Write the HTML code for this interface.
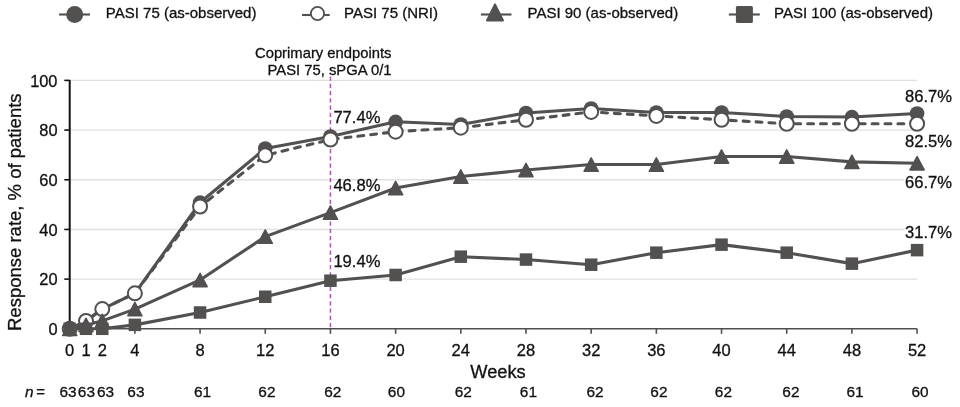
<!DOCTYPE html><html><head><meta charset="utf-8"><style>html,body{margin:0;padding:0;background:#fff;}svg{display:block;will-change:transform;} text{stroke:#111;stroke-width:0.3px;font-family:"Liberation Sans",sans-serif;}</style></head><body>
<svg width="960" height="407" viewBox="0 0 960 407">
<line x1="70.7" y1="279.12" x2="917.09" y2="279.12" stroke="#e0e0e0" stroke-width="1.4"/>
<line x1="70.7" y1="229.44" x2="917.09" y2="229.44" stroke="#e0e0e0" stroke-width="1.4"/>
<line x1="70.7" y1="179.76" x2="917.09" y2="179.76" stroke="#e0e0e0" stroke-width="1.4"/>
<line x1="70.7" y1="130.08" x2="917.09" y2="130.08" stroke="#e0e0e0" stroke-width="1.4"/>
<line x1="70.7" y1="80.40" x2="917.09" y2="80.40" stroke="#e0e0e0" stroke-width="1.4"/>
<line x1="69.7" y1="328.80" x2="917.09" y2="328.80" stroke="#505050" stroke-width="1.6"/>
<line x1="69.70" y1="328.80" x2="69.70" y2="333.80" stroke="#505050" stroke-width="1.6"/>
<line x1="86.00" y1="328.80" x2="86.00" y2="333.80" stroke="#505050" stroke-width="1.6"/>
<line x1="102.29" y1="328.80" x2="102.29" y2="333.80" stroke="#505050" stroke-width="1.6"/>
<line x1="134.88" y1="328.80" x2="134.88" y2="333.80" stroke="#505050" stroke-width="1.6"/>
<line x1="200.07" y1="328.80" x2="200.07" y2="333.80" stroke="#505050" stroke-width="1.6"/>
<line x1="265.25" y1="328.80" x2="265.25" y2="333.80" stroke="#505050" stroke-width="1.6"/>
<line x1="330.44" y1="328.80" x2="330.44" y2="333.80" stroke="#505050" stroke-width="1.6"/>
<line x1="395.62" y1="328.80" x2="395.62" y2="333.80" stroke="#505050" stroke-width="1.6"/>
<line x1="460.80" y1="328.80" x2="460.80" y2="333.80" stroke="#505050" stroke-width="1.6"/>
<line x1="525.99" y1="328.80" x2="525.99" y2="333.80" stroke="#505050" stroke-width="1.6"/>
<line x1="591.17" y1="328.80" x2="591.17" y2="333.80" stroke="#505050" stroke-width="1.6"/>
<line x1="656.36" y1="328.80" x2="656.36" y2="333.80" stroke="#505050" stroke-width="1.6"/>
<line x1="721.54" y1="328.80" x2="721.54" y2="333.80" stroke="#505050" stroke-width="1.6"/>
<line x1="786.72" y1="328.80" x2="786.72" y2="333.80" stroke="#505050" stroke-width="1.6"/>
<line x1="851.91" y1="328.80" x2="851.91" y2="333.80" stroke="#505050" stroke-width="1.6"/>
<line x1="917.09" y1="328.80" x2="917.09" y2="333.80" stroke="#505050" stroke-width="1.6"/>
<line x1="69.7" y1="79.90" x2="69.7" y2="328.80" stroke="#111" stroke-width="2"/>
<line x1="64.3" y1="328.80" x2="69.7" y2="328.80" stroke="#111" stroke-width="1.6"/>
<line x1="64.3" y1="279.12" x2="69.7" y2="279.12" stroke="#111" stroke-width="1.6"/>
<line x1="64.3" y1="229.44" x2="69.7" y2="229.44" stroke="#111" stroke-width="1.6"/>
<line x1="64.3" y1="179.76" x2="69.7" y2="179.76" stroke="#111" stroke-width="1.6"/>
<line x1="64.3" y1="130.08" x2="69.7" y2="130.08" stroke="#111" stroke-width="1.6"/>
<line x1="64.3" y1="80.40" x2="69.7" y2="80.40" stroke="#111" stroke-width="1.6"/>
<text x="57.5" y="335.10" font-size="16.4" text-anchor="end" fill="#111">0</text>
<text x="57.5" y="285.42" font-size="16.4" text-anchor="end" fill="#111">20</text>
<text x="57.5" y="235.74" font-size="16.4" text-anchor="end" fill="#111">40</text>
<text x="57.5" y="186.06" font-size="16.4" text-anchor="end" fill="#111">60</text>
<text x="57.5" y="136.38" font-size="16.4" text-anchor="end" fill="#111">80</text>
<text x="57.5" y="86.70" font-size="16.4" text-anchor="end" fill="#111">100</text>
<text transform="translate(21,331.0) rotate(-90)" font-size="18.5" fill="#111">Response rate, % of patients</text>
<line x1="330.44" y1="76.5" x2="330.44" y2="328.80" stroke="#a65aa6" stroke-width="1.5" stroke-dasharray="4.2 3.05"/>
<polyline points="69.70,328.80 86.00,320.91 102.29,309.09 134.88,293.31 200.07,202.56 265.25,148.51 330.44,136.49 395.62,121.80 460.80,124.47 525.99,112.98 591.17,108.45 656.36,112.45 721.54,112.45 786.72,116.46 851.91,117.05 917.09,113.52" fill="none" stroke="#535050" stroke-width="3.1" stroke-linejoin="round"/>
<polyline points="69.70,328.80 86.00,320.91 102.29,309.09 134.88,293.31 200.07,206.57 265.25,155.31 330.44,139.54 395.62,131.66 460.80,127.71 525.99,119.83 591.17,111.94 656.36,115.89 721.54,119.83 786.72,123.77 851.91,123.77 917.09,123.77" fill="none" stroke="#535050" stroke-width="3.1" stroke-dasharray="5.9 7" stroke-dashoffset="0.65" stroke-linecap="round" stroke-linejoin="round"/>
<polyline points="69.70,328.80 86.00,324.86 102.29,320.91 134.88,309.09 200.07,279.93 265.25,236.65 330.44,212.61 395.62,188.04 460.80,176.55 525.99,169.99 591.17,164.54 656.36,164.54 721.54,156.52 786.72,156.52 851.91,161.84 917.09,163.20" fill="none" stroke="#535050" stroke-width="3.1" stroke-linejoin="round"/>
<polyline points="69.70,328.80 86.00,328.80 102.29,328.80 134.88,324.86 200.07,312.51 265.25,296.75 330.44,280.72 395.62,274.98 460.80,256.68 525.99,259.57 591.17,264.70 656.36,252.68 721.54,244.66 786.72,252.68 851.91,263.65 917.09,250.14" fill="none" stroke="#535050" stroke-width="3.1" stroke-linejoin="round"/>
<circle cx="69.70" cy="328.80" r="7.3" fill="#535050"/>
<circle cx="86.00" cy="320.91" r="7.3" fill="#535050"/>
<circle cx="102.29" cy="309.09" r="7.3" fill="#535050"/>
<circle cx="134.88" cy="293.31" r="7.3" fill="#535050"/>
<circle cx="200.07" cy="202.56" r="7.3" fill="#535050"/>
<circle cx="265.25" cy="148.51" r="7.3" fill="#535050"/>
<circle cx="330.44" cy="136.49" r="7.3" fill="#535050"/>
<circle cx="395.62" cy="121.80" r="7.3" fill="#535050"/>
<circle cx="460.80" cy="124.47" r="7.3" fill="#535050"/>
<circle cx="525.99" cy="112.98" r="7.3" fill="#535050"/>
<circle cx="591.17" cy="108.45" r="7.3" fill="#535050"/>
<circle cx="656.36" cy="112.45" r="7.3" fill="#535050"/>
<circle cx="721.54" cy="112.45" r="7.3" fill="#535050"/>
<circle cx="786.72" cy="116.46" r="7.3" fill="#535050"/>
<circle cx="851.91" cy="117.05" r="7.3" fill="#535050"/>
<circle cx="917.09" cy="113.52" r="7.3" fill="#535050"/>
<circle cx="69.70" cy="328.80" r="7.0" fill="#fff" stroke="#535050" stroke-width="2"/>
<circle cx="86.00" cy="320.91" r="7.0" fill="#fff" stroke="#535050" stroke-width="2"/>
<circle cx="102.29" cy="309.09" r="7.0" fill="#fff" stroke="#535050" stroke-width="2"/>
<circle cx="134.88" cy="293.31" r="7.0" fill="#fff" stroke="#535050" stroke-width="2"/>
<circle cx="200.07" cy="206.57" r="7.0" fill="#fff" stroke="#535050" stroke-width="2"/>
<circle cx="265.25" cy="155.31" r="7.0" fill="#fff" stroke="#535050" stroke-width="2"/>
<circle cx="330.44" cy="139.54" r="7.0" fill="#fff" stroke="#535050" stroke-width="2"/>
<circle cx="395.62" cy="131.66" r="7.0" fill="#fff" stroke="#535050" stroke-width="2"/>
<circle cx="460.80" cy="127.71" r="7.0" fill="#fff" stroke="#535050" stroke-width="2"/>
<circle cx="525.99" cy="119.83" r="7.0" fill="#fff" stroke="#535050" stroke-width="2"/>
<circle cx="591.17" cy="111.94" r="7.0" fill="#fff" stroke="#535050" stroke-width="2"/>
<circle cx="656.36" cy="115.89" r="7.0" fill="#fff" stroke="#535050" stroke-width="2"/>
<circle cx="721.54" cy="119.83" r="7.0" fill="#fff" stroke="#535050" stroke-width="2"/>
<circle cx="786.72" cy="123.77" r="7.0" fill="#fff" stroke="#535050" stroke-width="2"/>
<circle cx="851.91" cy="123.77" r="7.0" fill="#fff" stroke="#535050" stroke-width="2"/>
<circle cx="917.09" cy="123.77" r="7.0" fill="#fff" stroke="#535050" stroke-width="2"/>
<polygon points="69.70,322.10 76.80,335.50 62.60,335.50" fill="#535050" stroke="#535050" stroke-width="1.5" stroke-linejoin="round"/>
<polygon points="86.00,318.16 93.10,331.56 78.90,331.56" fill="#535050" stroke="#535050" stroke-width="1.5" stroke-linejoin="round"/>
<polygon points="102.29,314.21 109.39,327.61 95.19,327.61" fill="#535050" stroke="#535050" stroke-width="1.5" stroke-linejoin="round"/>
<polygon points="134.88,302.39 141.98,315.79 127.78,315.79" fill="#535050" stroke="#535050" stroke-width="1.5" stroke-linejoin="round"/>
<polygon points="200.07,273.23 207.17,286.63 192.97,286.63" fill="#535050" stroke="#535050" stroke-width="1.5" stroke-linejoin="round"/>
<polygon points="265.25,229.95 272.35,243.35 258.15,243.35" fill="#535050" stroke="#535050" stroke-width="1.5" stroke-linejoin="round"/>
<polygon points="330.44,205.91 337.54,219.31 323.34,219.31" fill="#535050" stroke="#535050" stroke-width="1.5" stroke-linejoin="round"/>
<polygon points="395.62,181.34 402.72,194.74 388.52,194.74" fill="#535050" stroke="#535050" stroke-width="1.5" stroke-linejoin="round"/>
<polygon points="460.80,169.85 467.90,183.25 453.70,183.25" fill="#535050" stroke="#535050" stroke-width="1.5" stroke-linejoin="round"/>
<polygon points="525.99,163.29 533.09,176.69 518.89,176.69" fill="#535050" stroke="#535050" stroke-width="1.5" stroke-linejoin="round"/>
<polygon points="591.17,157.84 598.27,171.24 584.07,171.24" fill="#535050" stroke="#535050" stroke-width="1.5" stroke-linejoin="round"/>
<polygon points="656.36,157.84 663.46,171.24 649.26,171.24" fill="#535050" stroke="#535050" stroke-width="1.5" stroke-linejoin="round"/>
<polygon points="721.54,149.82 728.64,163.22 714.44,163.22" fill="#535050" stroke="#535050" stroke-width="1.5" stroke-linejoin="round"/>
<polygon points="786.72,149.82 793.82,163.22 779.62,163.22" fill="#535050" stroke="#535050" stroke-width="1.5" stroke-linejoin="round"/>
<polygon points="851.91,155.14 859.01,168.54 844.81,168.54" fill="#535050" stroke="#535050" stroke-width="1.5" stroke-linejoin="round"/>
<polygon points="917.09,156.50 924.19,169.90 909.99,169.90" fill="#535050" stroke="#535050" stroke-width="1.5" stroke-linejoin="round"/>
<rect x="63.45" y="322.55" width="12.5" height="12.5" fill="#535050"/>
<rect x="79.75" y="322.55" width="12.5" height="12.5" fill="#535050"/>
<rect x="96.04" y="322.55" width="12.5" height="12.5" fill="#535050"/>
<rect x="128.63" y="318.61" width="12.5" height="12.5" fill="#535050"/>
<rect x="193.82" y="306.26" width="12.5" height="12.5" fill="#535050"/>
<rect x="259.00" y="290.50" width="12.5" height="12.5" fill="#535050"/>
<rect x="324.19" y="274.47" width="12.5" height="12.5" fill="#535050"/>
<rect x="389.37" y="268.73" width="12.5" height="12.5" fill="#535050"/>
<rect x="454.55" y="250.43" width="12.5" height="12.5" fill="#535050"/>
<rect x="519.74" y="253.32" width="12.5" height="12.5" fill="#535050"/>
<rect x="584.92" y="258.45" width="12.5" height="12.5" fill="#535050"/>
<rect x="650.11" y="246.43" width="12.5" height="12.5" fill="#535050"/>
<rect x="715.29" y="238.41" width="12.5" height="12.5" fill="#535050"/>
<rect x="780.47" y="246.43" width="12.5" height="12.5" fill="#535050"/>
<rect x="845.66" y="257.40" width="12.5" height="12.5" fill="#535050"/>
<rect x="910.84" y="243.89" width="12.5" height="12.5" fill="#535050"/>
<text x="391.5" y="58" font-size="14.8" text-anchor="end" fill="#111">Coprimary endpoints</text>
<text x="391.5" y="75" font-size="14.8" text-anchor="end" fill="#111">PASI 75, sPGA 0/1</text>
<text x="333.4" y="123.4" font-size="16.6" fill="#111">77.4%</text>
<text x="333.4" y="191.1" font-size="16.6" fill="#111">46.8%</text>
<text x="333.4" y="266.5" font-size="16.6" fill="#111">19.4%</text>
<text x="905" y="101.6" font-size="16.6" fill="#111">86.7%</text>
<text x="905" y="147.4" font-size="16.6" fill="#111">82.5%</text>
<rect x="904.3" y="174.6" width="49" height="15" fill="#fff"/>
<text x="905" y="187.6" font-size="16.6" fill="#111">66.7%</text>
<rect x="904.3" y="225.2" width="49" height="15" fill="#fff"/>
<text x="905" y="238.2" font-size="16.6" fill="#111">31.7%</text>
<text x="69.70" y="355.7" font-size="16.5" text-anchor="middle" fill="#111">0</text>
<text x="86.00" y="355.7" font-size="16.5" text-anchor="middle" fill="#111">1</text>
<text x="102.29" y="355.7" font-size="16.5" text-anchor="middle" fill="#111">2</text>
<text x="134.88" y="355.7" font-size="16.5" text-anchor="middle" fill="#111">4</text>
<text x="200.07" y="355.7" font-size="16.5" text-anchor="middle" fill="#111">8</text>
<text x="265.25" y="355.7" font-size="16.5" text-anchor="middle" fill="#111">12</text>
<text x="330.44" y="355.7" font-size="16.5" text-anchor="middle" fill="#111">16</text>
<text x="395.62" y="355.7" font-size="16.5" text-anchor="middle" fill="#111">20</text>
<text x="460.80" y="355.7" font-size="16.5" text-anchor="middle" fill="#111">24</text>
<text x="525.99" y="355.7" font-size="16.5" text-anchor="middle" fill="#111">28</text>
<text x="591.17" y="355.7" font-size="16.5" text-anchor="middle" fill="#111">32</text>
<text x="656.36" y="355.7" font-size="16.5" text-anchor="middle" fill="#111">36</text>
<text x="721.54" y="355.7" font-size="16.5" text-anchor="middle" fill="#111">40</text>
<text x="786.72" y="355.7" font-size="16.5" text-anchor="middle" fill="#111">44</text>
<text x="851.91" y="355.7" font-size="16.5" text-anchor="middle" fill="#111">48</text>
<text x="917.09" y="355.7" font-size="16.5" text-anchor="middle" fill="#111">52</text>
<text x="498" y="377.6" font-size="18.3" text-anchor="middle" fill="#111">Weeks</text>
<text x="25.1" y="397.4" font-size="15.4" font-style="italic" fill="#111">n</text>
<text x="36.3" y="397.4" font-size="15" fill="#111">=</text>
<text x="59.55" y="397.3" font-size="15.4" fill="#111">63</text>
<text x="77.85" y="397.3" font-size="15.4" fill="#111">63</text>
<text x="97.05" y="397.3" font-size="15.4" fill="#111">63</text>
<text x="127.35" y="397.3" font-size="15.4" fill="#111">63</text>
<text x="194.05" y="397.3" font-size="15.4" fill="#111">61</text>
<text x="258.35" y="397.3" font-size="15.4" fill="#111">62</text>
<text x="324.25" y="397.3" font-size="15.4" fill="#111">62</text>
<text x="387.85" y="397.3" font-size="15.4" fill="#111">60</text>
<text x="454.65" y="397.3" font-size="15.4" fill="#111">62</text>
<text x="519.85" y="397.3" font-size="15.4" fill="#111">61</text>
<text x="586.55" y="397.3" font-size="15.4" fill="#111">62</text>
<text x="650.35" y="397.3" font-size="15.4" fill="#111">62</text>
<text x="714.85" y="397.3" font-size="15.4" fill="#111">62</text>
<text x="782.35" y="397.3" font-size="15.4" fill="#111">62</text>
<text x="846.55" y="397.3" font-size="15.4" fill="#111">61</text>
<text x="911.55" y="397.3" font-size="15.4" fill="#111">60</text>
<line x1="59.1" y1="14.5" x2="90" y2="14.5" stroke="#535050" stroke-width="2.1"/>
<circle cx="74.7" cy="14.5" r="8.5" fill="#535050"/>
<text x="105.8" y="18.45" font-size="15" fill="#111">PASI 75 (as-observed)</text>
<line x1="302" y1="15" x2="329.7" y2="15" stroke="#535050" stroke-width="2.1"/>
<circle cx="317.5" cy="13.5" r="6.6" fill="#fff" stroke="#535050" stroke-width="1.8"/>
<text x="344.1" y="18.45" font-size="15" fill="#111">PASI 75 (NRI)</text>
<line x1="480.9" y1="14.5" x2="511.5" y2="14.5" stroke="#535050" stroke-width="2.1"/>
<polygon points="495,4.4 503,20.4 487,20.4" fill="#535050" stroke="#535050" stroke-width="2" stroke-linejoin="round"/>
<text x="527.5" y="18.45" font-size="15" fill="#111">PASI 90 (as-observed)</text>
<line x1="728.8" y1="14.5" x2="759.8" y2="14.5" stroke="#535050" stroke-width="2.1"/>
<rect x="735.9" y="5.9" width="17" height="17" rx="1.5" fill="#535050"/>
<text x="774" y="18.45" font-size="15" fill="#111">PASI 100 (as-observed)</text>
</svg></body></html>
